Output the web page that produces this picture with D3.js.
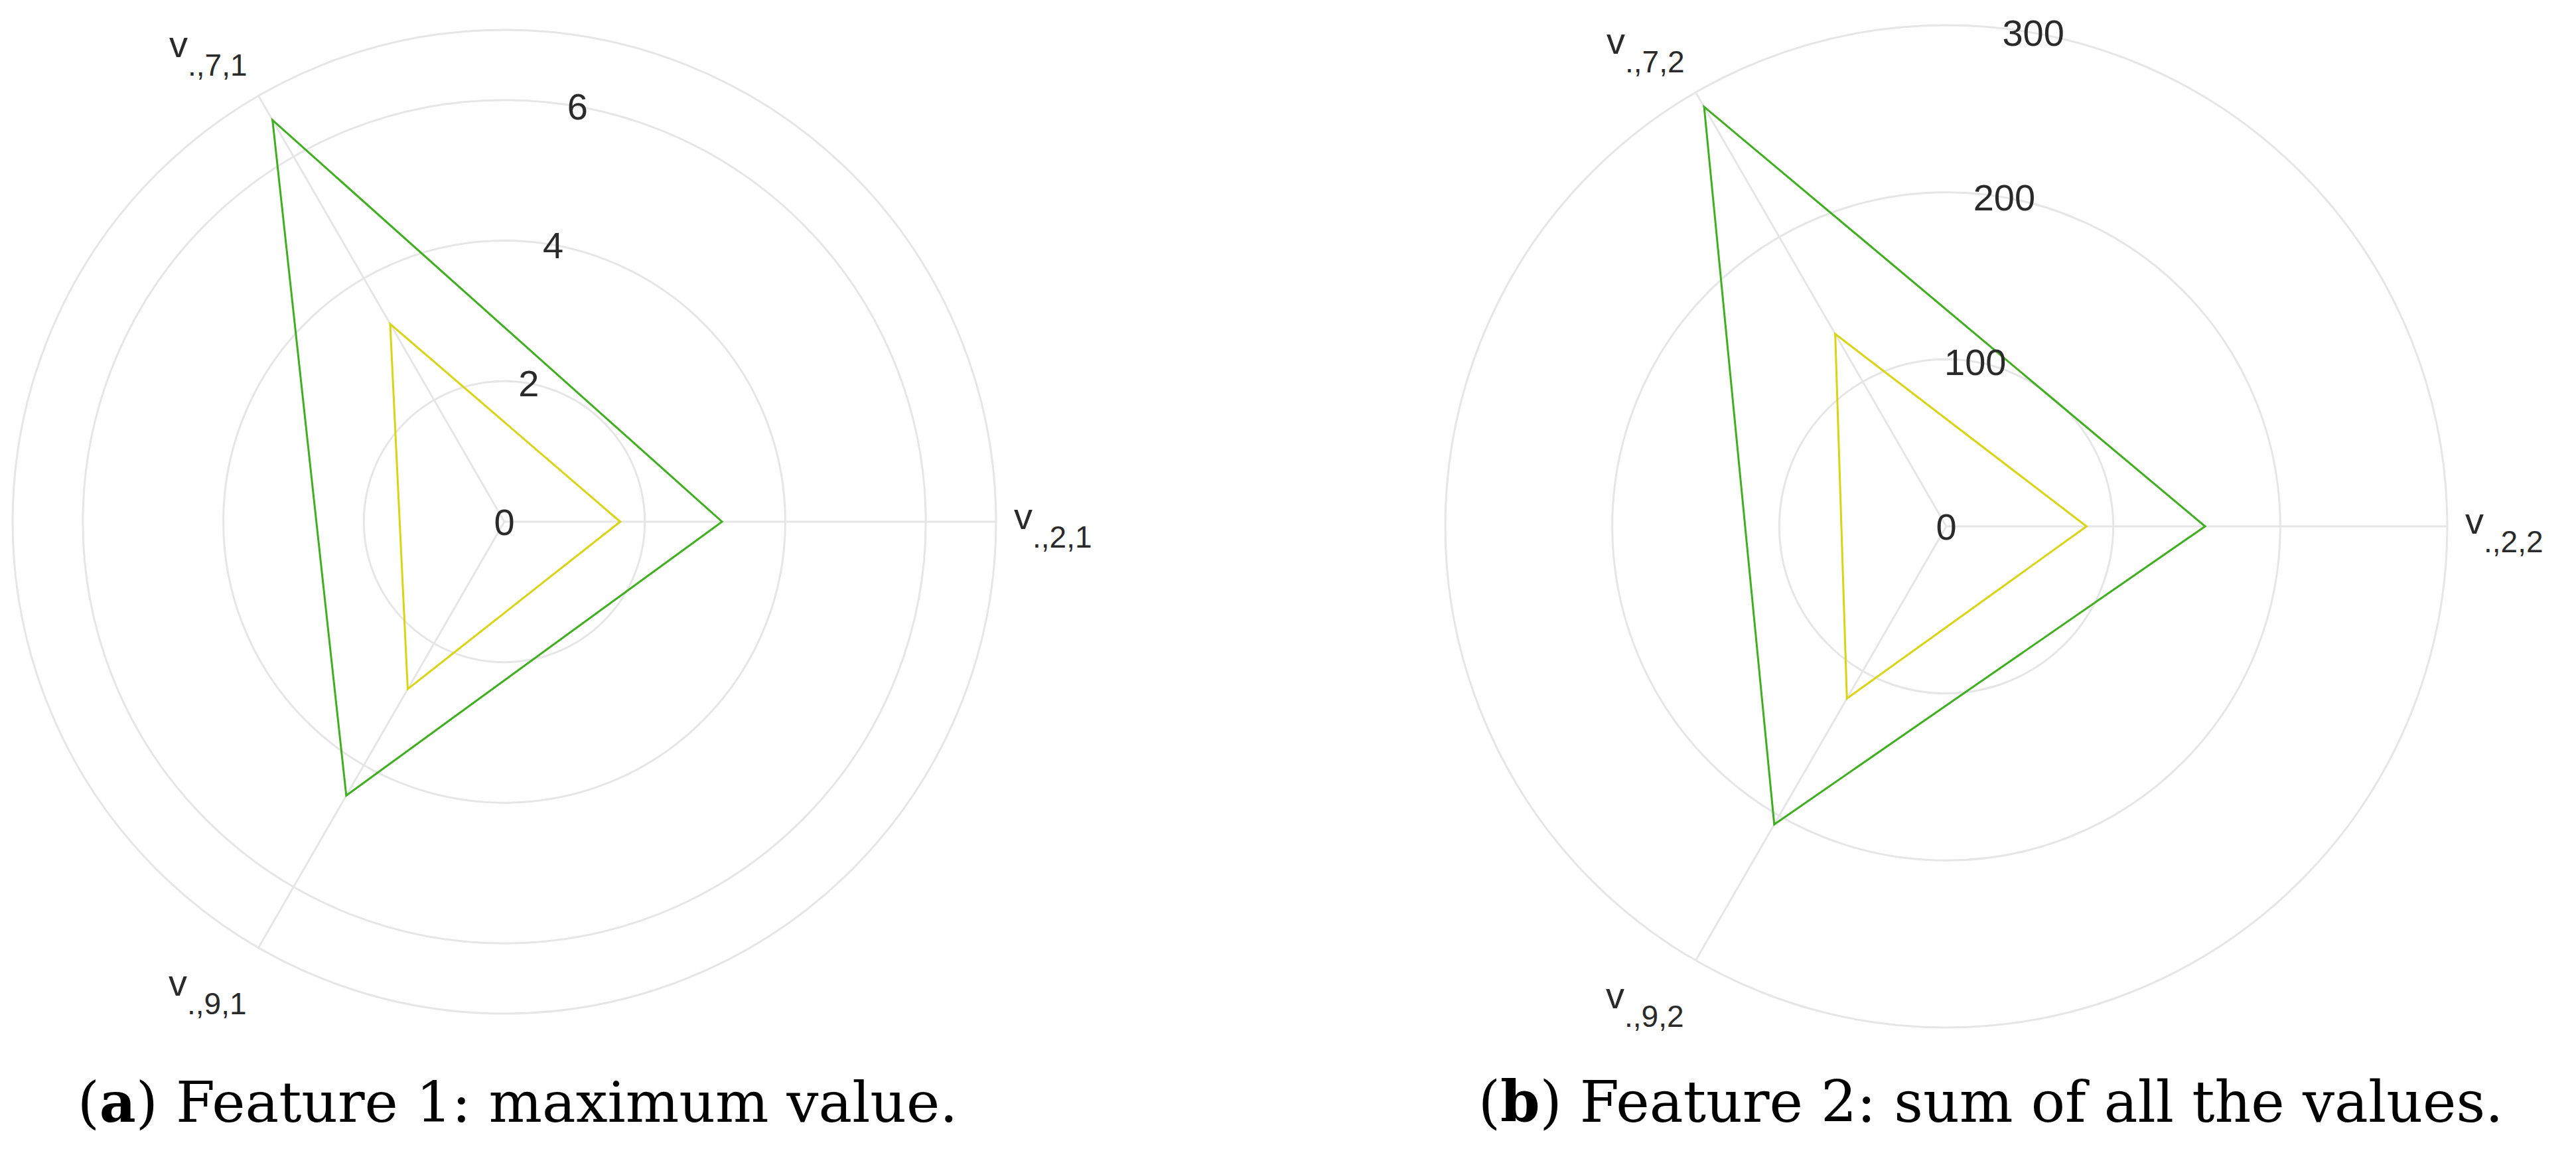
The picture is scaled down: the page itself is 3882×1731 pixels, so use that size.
<!DOCTYPE html>
<html>
<head>
<meta charset="utf-8">
<script src="https://cdn.jsdelivr.net/npm/d3@7"></script>
<style>
  html, body { margin: 0; padding: 0; background: #fff; }
  svg { display: block; }
</style>
</head>
<body>
<svg id="chart" width="3882" height="1731"></svg>
<script>
// ---- data ----
const anglesDeg = [0, 120, 240];
const subsA = [".,2,1", ".,7,1", ".,9,1"];
const subsB = [".,2,2", ".,7,2", ".,9,2"];
const greenA = [3.1, 6.6, 4.5];
const yellowA = [1.65, 3.25, 2.75];
const greenB = [155, 290, 206];
const yellowB = [84, 133, 119];
const ticksA = [0, 2, 4, 6];
const ticksB = [0, 100, 200, 300];
const gridA = [2, 4, 6, 7];
const gridB = [100, 200, 300];
const maxA = 7, maxB = 300;
const captionA = { letter: "a", text: " Feature 1: maximum value." };
const captionB = { letter: "b", text: " Feature 2: sum of all the values." };

// ---- style ----
const GREEN = "#3fae1f", YELLOW = "#d9d415", GRID = "#e6e6e6", TEXT = "#2a2a2a";
const svg = d3.select("#chart");

function radar(cfg) {
  const g = svg.append("g").attr("transform", `translate(${cfg.cx},${cfg.cy})`);
  const r = d3.scaleLinear().domain([0, cfg.max]).range([0, cfg.R]);
  const R = cfg.R;
  // grid circles
  g.selectAll("circle.grid").data(cfg.grid).join("circle")
    .attr("r", d => r(d)).attr("fill", "none").attr("stroke", GRID).attr("stroke-width", 3);
  // spokes
  g.selectAll("line.spoke").data(anglesDeg).join("line")
    .attr("x1", 0).attr("y1", 0)
    .attr("x2", d => R * Math.cos(d * Math.PI / 180))
    .attr("y2", d => -R * Math.sin(d * Math.PI / 180))
    .attr("stroke", GRID).attr("stroke-width", 3);
  // series
  const line = d3.lineRadial()
    .angle((d, i) => Math.PI / 2 - anglesDeg[i] * Math.PI / 180)
    .radius(d => r(d))
    .curve(d3.curveLinearClosed);
  cfg.series.forEach(s => {
    g.append("path").attr("d", line(s.values)).attr("fill", "none")
      .attr("stroke", s.color).attr("stroke-width", 3).attr("stroke-linejoin", "miter");
  });
  // radial tick labels along 80deg
  const ta = 80 * Math.PI / 180;
  g.selectAll("text.tick").data(cfg.ticks).join("text")
    .attr("x", d => r(d) * Math.cos(ta))
    .attr("y", d => -r(d) * Math.sin(ta))
    .attr("text-anchor", "middle").attr("dominant-baseline", "central")
    .attr("font-family", "Liberation Sans, Arial, sans-serif")
    .attr("font-size", 56).attr("fill", TEXT)
    .text(d => d);
  // angular labels
  anglesDeg.forEach((a, i) => {
    const ex = R * Math.cos(a * Math.PI / 180), ey = -R * Math.sin(a * Math.PI / 180);
    let x, y, anchor;
    if (a === 0) { x = ex + 27; y = 11; anchor = "start"; }
    else if (a === 120) { x = ex - 17; y = ey - 58; anchor = "end"; }
    else { x = ex - 18; y = ey + 72; anchor = "end"; }
    const t = g.append("text").attr("x", x).attr("y", y).attr("text-anchor", anchor)
      .attr("font-family", "Liberation Sans, Arial, sans-serif").attr("fill", TEXT);
    t.append("tspan").attr("font-size", 56).text("v");
    t.append("tspan").attr("font-size", 46).attr("dy", 28).text(cfg.subs[i]);
  });
}

radar({ cx: 760, cy: 786, R: 741, max: maxA, grid: gridA, ticks: ticksA, subs: subsA,
  series: [{ values: yellowA, color: YELLOW }, { values: greenA, color: GREEN }] });
radar({ cx: 2933, cy: 793, R: 755, max: maxB, grid: gridB, ticks: ticksB, subs: subsB,
  series: [{ values: yellowB, color: YELLOW }, { values: greenB, color: GREEN }] });

// captions
function caption(c, cx, targetW) {
  const t = svg.append("text").attr("x", cx).attr("y", 1690).attr("text-anchor", "middle")
    .attr("font-family", "DejaVu Serif, serif").attr("font-size", 80).attr("fill", "#000");
  t.append("tspan").text("(");
  t.append("tspan").attr("font-weight", "bold").text(c.letter);
  t.append("tspan").text(")" + c.text);
  const w = t.node().getComputedTextLength();
  t.attr("font-size", 80 * targetW / w);
}
caption(captionA, 780, 1327);
caption(captionB, 3000, 1545);
</script>
</body>
</html>
